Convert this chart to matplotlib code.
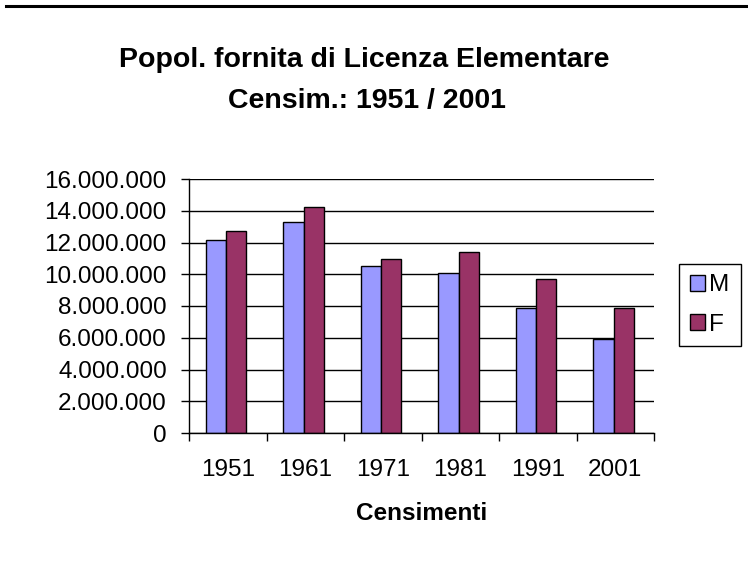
import matplotlib
matplotlib.use("Agg")
import matplotlib.pyplot as plt
import numpy as np
from matplotlib.ticker import FuncFormatter, MultipleLocator
from matplotlib.lines import Line2D

plt.rcParams['font.family'] = ['Liberation Sans', 'DejaVu Sans']

years = ["1951", "1961", "1971", "1981", "1991", "2001"]
male = [12150000, 13300000, 10520000, 10060000, 7850000, 5900000]
female = [12700000, 14250000, 10980000, 11380000, 9680000, 7850000]
series_names = ["M", "F"]
title_lines = ["Popol. fornita di Licenza Elementare", "Censim.: 1951 / 2001"]
xlabel = "Censimenti"

col_m = "#9999FF"
col_f = "#993366"

fig = plt.figure(figsize=(7.48, 5.67), dpi=100)
ax = fig.add_axes([189/748, 1-433/567, (654-189)/748, (433-179)/567])

idx = np.arange(len(years))
w = 0.26
ax.bar(idx + 0.348, male, width=w, color=col_m, edgecolor='black', linewidth=1.0, label=series_names[0], zorder=3)
ax.bar(idx + 0.610, female, width=w, color=col_f, edgecolor='black', linewidth=1.0, label=series_names[1], zorder=3)

ax.set_xlim(0, len(years))
ax.set_ylim(0, 16000000)
ax.yaxis.set_major_locator(MultipleLocator(2000000))
ax.yaxis.set_major_formatter(FuncFormatter(lambda v, p: "0" if v == 0 else f"{int(v):,}".replace(",", ".")))
ax.set_xticks(np.arange(len(years) + 1))
ax.set_xticklabels([])
ax.set_xticks(idx + 0.5, minor=True)
ax.set_xticklabels(years, minor=True)
ax.tick_params(axis='x', which='minor', length=0, pad=19, labelsize=17.5)
ax.tick_params(axis='x', which='major', length=6, width=1, direction='out', color='black')
ax.tick_params(axis='y', length=6, width=1, direction='out', pad=10, labelsize=17.5, color='black')

ax.grid(axis='y', color='black', linewidth=1.0, zorder=0)
ax.set_axisbelow(True)
for s in ['top', 'right']:
    ax.spines[s].set_visible(False)
for s in ['left', 'bottom']:
    ax.spines[s].set_color('black')
    ax.spines[s].set_linewidth(1.0)
    ax.spines[s].set_zorder(4)

ax.set_xlabel(xlabel, fontsize=17.5, fontweight='bold', labelpad=15)

fig.text(364/748, 1-67/567, title_lines[0], ha='center', va='baseline', fontsize=20.5, fontweight='bold')
fig.text(367/748, 1-108/567, title_lines[1], ha='center', va='baseline', fontsize=20.5, fontweight='bold')

leg = ax.legend(loc='center left', bbox_to_anchor=(679/748, 1-305/567), bbox_transform=fig.transFigure,
                fontsize=17.5, frameon=True, fancybox=False, edgecolor='black', framealpha=1,
                handlelength=0.6, handleheight=0.6, handletextpad=0.2, labelspacing=0.7,
                borderpad=0.45, borderaxespad=0)
leg.get_frame().set_linewidth(1.0)

fig.add_artist(Line2D([6/748, 1], [1-5.7/567, 1-5.7/567], color='black', linewidth=2.2, transform=fig.transFigure))

fig.savefig("out.png", dpi=100)
